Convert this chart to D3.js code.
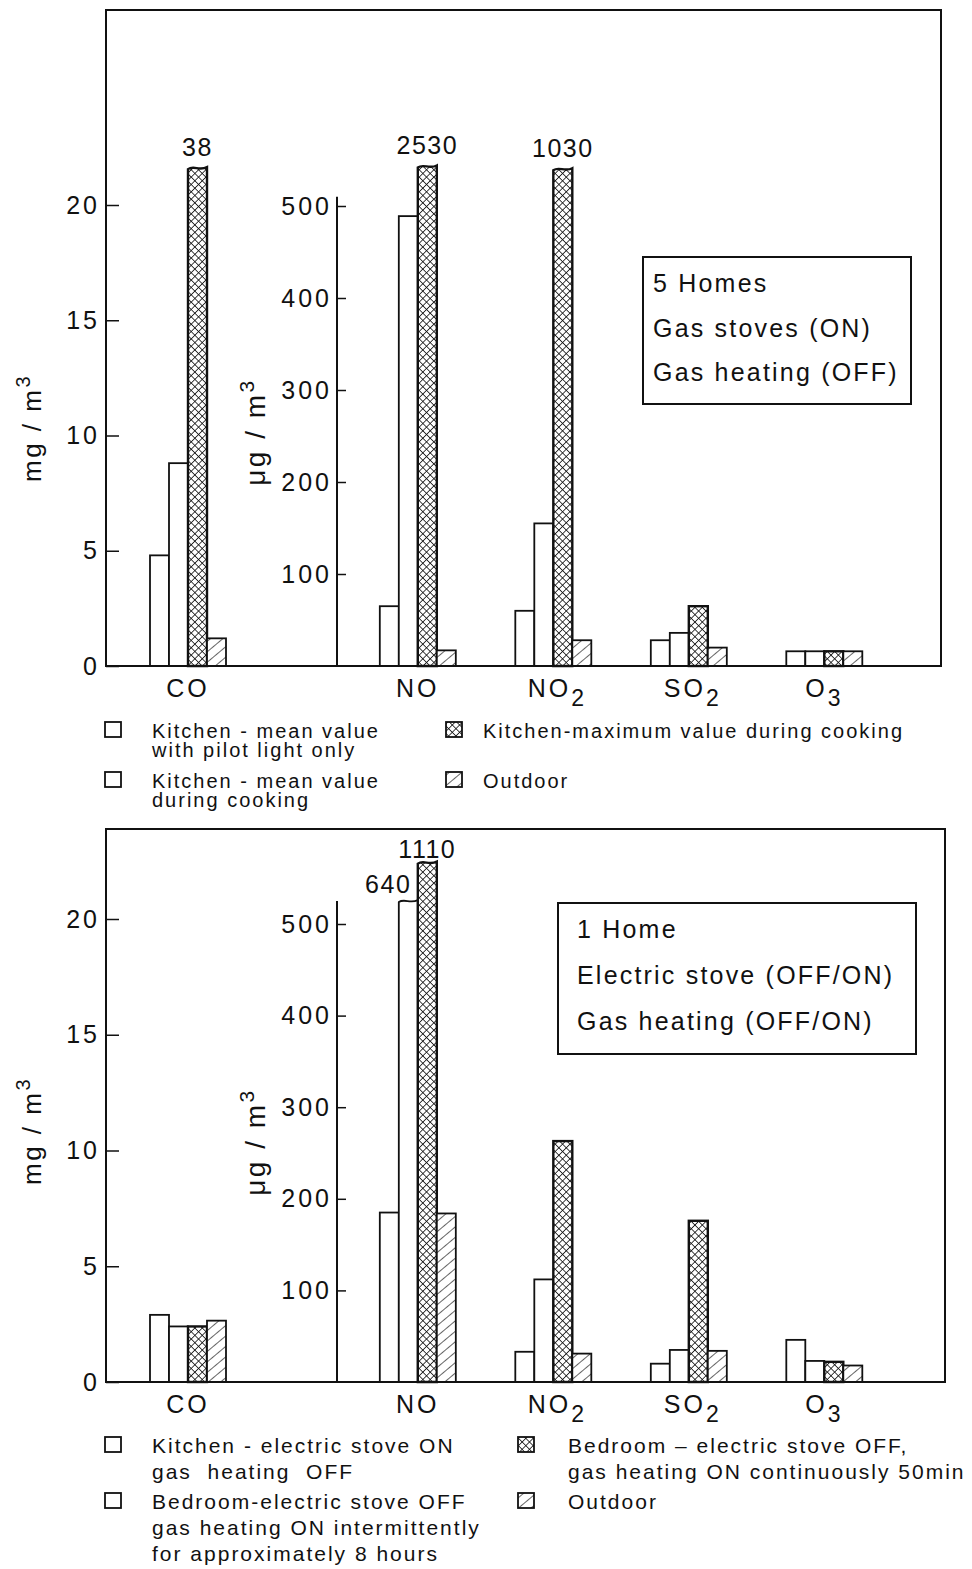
<!DOCTYPE html>
<html>
<head>
<meta charset="utf-8">
<script src="https://cdn.jsdelivr.net/npm/d3@7"></script>
<style>
    body { margin: 0; background: white; }
    text { font-family: "Liberation Sans", Arial, sans-serif; fill: #111; }
</style>
</head>
<body>
<svg id="chart" width="972" height="1569"></svg>
<script>
// categories (CO on the mg axis, the rest on the ug axis)
const categories = ["CO", "NO", "NO2", "SO2", "O3"];
const gasCategories = ["NO", "NO2", "SO2", "O3"];
const mgTicks = [0, 5, 10, 15, 20];
const ugTicks = [100, 200, 300, 400, 500];

// upper chart: 5 homes, gas stoves on
const upperPilot   = [4.8, 65, 60, 28, 16];
const upperCooking = [8.8, 489, 155, 36, 16];
const upperMax     = [38, 2530, 1030, 65, 16];
const upperOutdoor = [1.2, 17, 28, 20, 16];
// broken bars: category, series index, level where the bar is cut, label place
const upperBreaks = [["CO", 2, 21.6, "above"], ["NO", 2, 543, "above"], ["NO2", 2, 540, "above"]];

// lower chart: 1 home, electric stove
const lowerKitchen    = [2.9, 185, 33, 20, 46];
const lowerIntermit   = [2.4, 640, 112, 35, 23];
const lowerContinuous = [2.4, 1110, 263, 176, 22];
const lowerOutdoor    = [2.65, 184, 31, 34, 18];
const lowerBreaks = [["NO", 1, 525, "left"], ["NO", 2, 567, "above"]];

const upperBoxText = ["5 Homes", "Gas stoves (ON)", "Gas heating (OFF)"];
const lowerBoxText = ["1 Home", "Electric stove (OFF/ON)", "Gas heating (OFF/ON)"];

const upperLegend = [
    ["Kitchen - mean value", "with pilot light only"],
    ["Kitchen - mean value", "during cooking"],
    ["Kitchen-maximum value during cooking"],
    ["Outdoor"]
];
const lowerLegend = [
    ["Kitchen - electric stove ON", "gas  heating  OFF"],
    ["Bedroom-electric stove OFF", "gas heating ON intermittently", "for approximately 8 hours"],
    ["Bedroom \u2013 electric stove OFF,", "gas heating ON continuously 50min"],
    ["Outdoor"]
];

const fills = ["white", "white", "url(#xhatch)", "url(#hatch)"];

window.addEventListener("load", main);

function main()
{
    const svg = d3.select("svg#chart");
    const defs = svg.append("defs");

    // cross hatch for the maximum bars
    const xs = 5.2;
    const xp = defs.append("pattern").attr("id", "xhatch")
        .attr("width", xs).attr("height", xs)
        .attr("patternUnits", "userSpaceOnUse")
        .attr("patternTransform", "rotate(45)");
    xp.append("rect").attr("width", xs).attr("height", xs).attr("fill", "white");
    xp.append("line").attr("x1", 0).attr("y1", 0).attr("x2", 0).attr("y2", xs).attr("stroke", "#111").attr("stroke-width", 1.6);
    xp.append("line").attr("x1", 0).attr("y1", 0).attr("x2", xs).attr("y2", 0).attr("stroke", "#111").attr("stroke-width", 1.6);

    // single hatch for outdoor
    const hs = 8;
    const hp = defs.append("pattern").attr("id", "hatch")
        .attr("width", hs).attr("height", hs)
        .attr("patternUnits", "userSpaceOnUse")
        .attr("patternTransform", "rotate(50)");
    hp.append("rect").attr("width", hs).attr("height", hs).attr("fill", "white");
    hp.append("line").attr("x1", 0).attr("y1", 0).attr("x2", 0).attr("y2", hs).attr("stroke", "#111").attr("stroke-width", 1.3);

    drawPanel(svg, {
        top: 10, base: 666, right: 941, mgTop: 205, ugTop: 206, ugAxisEnd: 510,
        series: [upperPilot, upperCooking, upperMax, upperOutdoor],
        breaks: upperBreaks, labelGap: 12,
        box: [643, 257, 911, 404], boxText: upperBoxText,
        xLabelY: 697, titleY: [428, 432]
    });
    drawPanel(svg, {
        top: 829, base: 1382, right: 945, mgTop: 919, ugTop: 924, ugAxisEnd: 525,
        series: [lowerKitchen, lowerIntermit, lowerContinuous, lowerOutdoor],
        breaks: lowerBreaks, labelGap: 5,
        box: [558, 903, 916, 1054], boxText: lowerBoxText,
        xLabelY: 1413, titleY: [1131, 1142]
    });

    drawLegend(svg, upperLegend, 722, 446, 483, 50, 19, 20);
    drawLegend(svg, lowerLegend, 1437, 518, 568, 56, 26, 21);
}

function drawPanel(svg, p)
{
    const left = 106, ugX = 337;
    const g = svg.append("g");

    const yMg = d3.scaleLinear().domain([0, 20]).range([p.base, p.mgTop]);
    const yUg = d3.scaleLinear().domain([0, 500]).range([p.base, p.ugTop]);
    const xCO = d3.scaleBand().domain(["CO"]).range([150, 226]);
    const xGas = d3.scaleBand().domain(gasCategories).range([350, 892]).paddingInner(0.44).paddingOuter(0.22);
    const xIn = d3.scaleBand().domain([0, 1, 2, 3]).range([0, 76]);

    // bars
    categories.forEach((cat, i) => {
        const y = cat === "CO" ? yMg : yUg;
        const x0 = cat === "CO" ? xCO(cat) : xGas(cat);
        p.series.forEach((vals, j) => {
            const v = vals[i];
            const bx = x0 + xIn(j), bw = xIn.bandwidth();
            const br = p.breaks.find(b => b[0] === cat && b[1] === j);
            const sw = j === 2 ? 2.4 : 1.8;
            if (br) {
                const yt = y(br[2]);
                g.append("path")
                    .attr("d", `M${bx},${p.base}V${yt + 1}C${bx + bw * 0.3},${yt - 3} ${bx + bw * 0.6},${yt + 3} ${bx + bw},${yt - 1}V${p.base}Z`)
                    .attr("fill", fills[j]).attr("stroke", "#111").attr("stroke-width", sw);
                const lab = g.append("text").text(v)
                    .attr("font-size", 25).attr("letter-spacing", 1.5);
                if (br[3] === "above")
                    lab.attr("x", bx + bw / 2).attr("y", yt - p.labelGap).attr("text-anchor", "middle");
                else
                    lab.attr("x", bx + bw / 2 + 3).attr("y", yt - 8).attr("text-anchor", "end");
            } else {
                g.append("rect")
                    .attr("x", bx).attr("y", y(v)).attr("width", bw).attr("height", p.base - y(v))
                    .attr("fill", fills[j]).attr("stroke", "#111").attr("stroke-width", sw);
            }
        });

        // category label with subscript
        const t = g.append("text")
            .attr("x", x0 + xIn.range()[1] / 2 + (cat.length > 2 ? 4 : 0))
            .attr("y", p.xLabelY)
            .attr("text-anchor", "middle").attr("font-size", 25).attr("letter-spacing", 3);
        const m = cat.match(/^([A-Z]+?)(\d?)$/);
        t.append("tspan").text(m[1]);
        if (m[2]) t.append("tspan").text(m[2]).attr("dy", 9).attr("font-size", 23);
    });

    // frame
    g.append("rect")
        .attr("x", left).attr("y", p.top).attr("width", p.right - left).attr("height", p.base - p.top)
        .attr("fill", "none").attr("stroke", "#111").attr("stroke-width", 2);

    // mg axis, ticks pointing inward
    const mgAxis = g.append("g").attr("transform", `translate(${left},0)`)
        .call(d3.axisLeft(yMg).tickValues(mgTicks).tickSize(-13).tickPadding(6));
    mgAxis.select(".domain").remove();
    mgAxis.selectAll("line").attr("stroke", "#111").attr("stroke-width", 1.5);
    mgAxis.selectAll("text").attr("font-size", 25).attr("letter-spacing", 3).attr("fill", "#111")
        .attr("font-family", "Liberation Sans, Arial, sans-serif");

    // ug axis
    const ugAxis = g.append("g").attr("transform", `translate(${ugX},0)`)
        .call(d3.axisLeft(yUg).tickValues(ugTicks).tickSize(-9).tickPadding(5));
    ugAxis.select(".domain").remove();
    ugAxis.selectAll("line").attr("stroke", "#111").attr("stroke-width", 1.5);
    ugAxis.selectAll("text").attr("font-size", 25).attr("letter-spacing", 3).attr("fill", "#111")
        .attr("font-family", "Liberation Sans, Arial, sans-serif");
    g.append("line").attr("x1", ugX).attr("x2", ugX)
        .attr("y1", yUg(0)).attr("y2", yUg(p.ugAxisEnd))
        .attr("stroke", "#111").attr("stroke-width", 2);

    // axis titles
    const mgT = g.append("text").attr("transform", `translate(41,${p.titleY[0]}) rotate(-90)`)
        .attr("text-anchor", "middle").attr("font-size", 26).attr("letter-spacing", 2.5);
    mgT.append("tspan").text("mg / m");
    mgT.append("tspan").text("3").attr("dy", -11).attr("font-size", 20);
    const ugT = g.append("text").attr("transform", `translate(265,${p.titleY[1]}) rotate(-90)`)
        .attr("text-anchor", "middle").attr("font-size", 28).attr("letter-spacing", 2.5);
    ugT.append("tspan").text("\u03bcg / m");
    ugT.append("tspan").text("3").attr("dy", -11).attr("font-size", 21);

    // condition box
    const [bx0, by0, bx1, by1] = p.box;
    g.append("rect").attr("x", bx0).attr("y", by0).attr("width", bx1 - bx0).attr("height", by1 - by0)
        .attr("fill", "white").attr("stroke", "#111").attr("stroke-width", 2);
    const lineH = (by1 - by0) / 3.3;
    p.boxText.forEach((s, i) => {
        g.append("text").text(s)
            .attr("x", bx0 + (p.top < 100 ? 10 : 19))
            .attr("y", by0 + 35 + i * lineH)
            .attr("font-size", 25).attr("letter-spacing", 2.2)
            .attr("xml:space", "preserve");
    });
}

function drawLegend(svg, items, y0, xRightBox, xRightText, rowGap, lineGap, fontSize)
{
    const g = svg.append("g");
    const place = [[105, 152, 0], [105, 152, 1], [xRightBox, xRightText, 0], [xRightBox, xRightText, 1]];
    items.forEach((lines, i) => {
        const [sx, tx, row] = place[i];
        const y = y0 + row * rowGap;
        g.append("rect").attr("x", sx).attr("y", y).attr("width", 16).attr("height", 15)
            .attr("fill", fills[i]).attr("stroke", "#111").attr("stroke-width", 1.8);
        lines.forEach((s, k) => {
            g.append("text").text(s)
                .attr("x", tx).attr("y", y + 16 + k * lineGap)
                .attr("font-size", fontSize).attr("letter-spacing", 2)
                .attr("xml:space", "preserve");
        });
    });
}
</script>
</body>
</html>
